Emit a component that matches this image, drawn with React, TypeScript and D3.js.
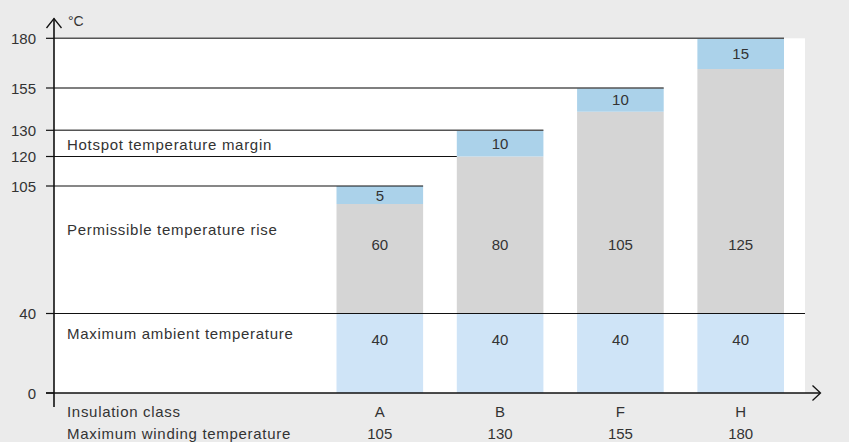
import * as d3 from 'd3'

// Insulation classes and their temperature budget (°C)
const classes = ['A', 'B', 'F', 'H']
const ambient = [40, 40, 40, 40]
const rise = [60, 80, 105, 125]
const hotspot = [5, 10, 10, 15]
const maxWinding = [105, 130, 155, 180]
const yTicks = [0, 40, 105, 120, 130, 155, 180]

const W = 849
const H = 442
const FONT = "'Liberation Sans', Arial, sans-serif"
const TXT = '#333'

export default function App() {
  const x0 = 54
  const plotRight = 805

  // schematic (not to scale) temperature axis
  const y = d3.scaleLinear()
    .domain([0, 40, 100, 105, 120, 130, 145, 155, 165, 180])
    .range([393, 313.5, 204, 186, 156.5, 130.3, 111.7, 88, 69, 38.3])

  const x = d3.scaleBand<string>()
    .domain(classes)
    .range([336.5, 784])
    .paddingInner(0.28)
    .paddingOuter(0)
  const bw = x.bandwidth()

  // right end of each horizontal guide line
  const lineEnd = (t: number) => {
    if (t === 40) return plotRight
    const i = maxWinding.indexOf(t)
    if (i >= 0) return (x(classes[i]) as number) + bw
    const j = rise.findIndex((r, k) => r + ambient[k] === t)
    if (j >= 0) return x(classes[j]) as number
    return plotRight
  }

  const label = (txt: string, yy: number) => (
    <text x={67} y={yy} dominantBaseline="central" fontSize={15} letterSpacing={0.7} fill={TXT}>{txt}</text>
  )

  return (
    <svg width={W} height={H} style={{ position: 'fixed', left: 0, top: 0, display: 'block' }}
      fontFamily={FONT}>
      <rect width={W} height={H} fill="#ebebeb" />
      <rect x={x0} y={y(180)} width={plotRight - x0} height={y(0) - y(180)} fill="#fff" />

      {/* stacked bars */}
      {classes.map((c, i) => {
        const bx = x(c) as number
        const a = ambient[i], r = rise[i], m = hotspot[i]
        return (
          <g key={c}>
            <rect x={bx} y={y(a)} width={bw} height={y(0) - y(a)} fill="#cfe4f7" />
            <rect x={bx} y={y(a + r)} width={bw} height={y(a) - y(a + r)} fill="#d5d5d5" />
            <rect x={bx} y={y(a + r + m)} width={bw} height={y(a + r) - y(a + r + m)} fill="#abd2ea" />
            <text x={bx + bw / 2} y={(y(0) + y(a)) / 2 - 14} textAnchor="middle" dominantBaseline="central"
              fontSize={15} fill={TXT}>{a}</text>
            <text x={bx + bw / 2} y={244} textAnchor="middle" dominantBaseline="central"
              fontSize={15} fill={TXT}>{r}</text>
            <text x={bx + bw / 2} y={(y(a + r) + y(a + r + m)) / 2} textAnchor="middle" dominantBaseline="central"
              fontSize={15} fill={TXT}>{m}</text>
          </g>
        )
      })}

      {/* guide lines + ticks */}
      {yTicks.map((t) => (
        <g key={t}>
          {t > 0 && (
            <line x1={x0} x2={lineEnd(t)} y1={y(t)} y2={y(t)}
              stroke={t >= 130 ? '#555' : '#111'} strokeWidth={t >= 130 ? 1.6 : 1.2} />
          )}
          <line x1={46} x2={x0} y1={y(t)} y2={y(t)} stroke="#111" strokeWidth={1.2} />
          <text x={36} y={y(t)} textAnchor="end" dominantBaseline="central" fontSize={15} fill={TXT}>{t}</text>
        </g>
      ))}

      {/* axes with arrows */}
      <line x1={x0} x2={x0} y1={18.5} y2={407} stroke="#111" strokeWidth={1.6} />
      <path d={`M46.5,28 L${x0},18.5 L61.5,28`} fill="none" stroke="#111" strokeWidth={1.3} />
      <line x1={46} x2={820} y1={y(0)} y2={y(0)} stroke="#111" strokeWidth={1.3} />
      <path d={`M812.5,385.5 L820.5,${y(0)} L812.5,400.5`} fill="none" stroke="#111" strokeWidth={1.3} />
      <text x={68} y={21} dominantBaseline="central" fontSize={14} fill={TXT}>°C</text>

      {/* left-hand annotations */}
      {label('Hotspot temperature margin', 144)}
      {label('Permissible temperature rise', 229)}
      {label('Maximum ambient temperature', 333)}
      {label('Insulation class', 411)}
      {label('Maximum winding temperature', 433)}

      {/* category rows */}
      {classes.map((c, i) => (
        <g key={'lbl' + c}>
          <text x={(x(c) as number) + bw / 2} y={411} textAnchor="middle" dominantBaseline="central"
            fontSize={15} fill={TXT}>{c}</text>
          <text x={(x(c) as number) + bw / 2} y={433} textAnchor="middle" dominantBaseline="central"
            fontSize={15} fill={TXT}>{maxWinding[i]}</text>
        </g>
      ))}
    </svg>
  )
}
